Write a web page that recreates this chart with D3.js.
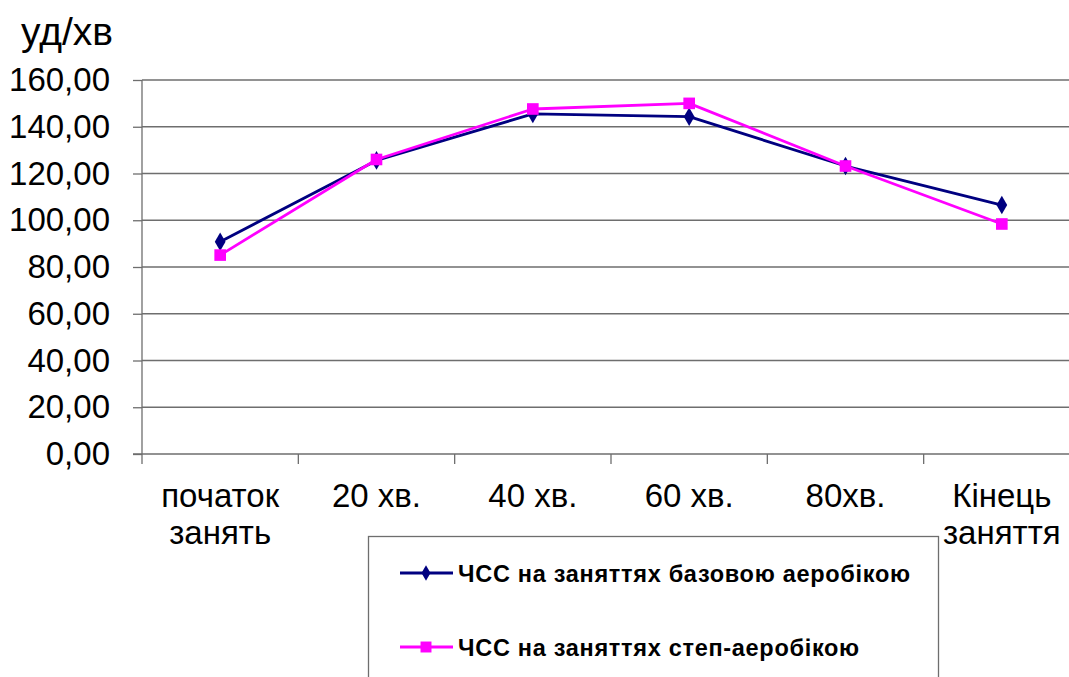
<!DOCTYPE html>
<html>
<head>
<meta charset="utf-8">
<script src="https://cdn.jsdelivr.net/npm/d3@7"></script>
<style>
  body { margin: 0; background: #fff; }
  svg { display: block; font-family: Arial, "Liberation Sans", sans-serif; }
</style>
</head>
<body>
<svg id="chart" width="1069" height="677"></svg>
<script>
// Heart rate during class stages
const categories = ["початок занять", "20 хв.", "40 хв.", "60 хв.", "80хв.", "Кінець заняття"];
const basicAerobics = [90.8, 125.6, 145.5, 144.3, 123.2, 106.5];
const stepAerobics  = [85.1, 126.0, 147.6, 150.0, 123.2, 98.4];
const yTicks = [0, 20, 40, 60, 80, 100, 120, 140, 160];
const seriesNames = ["ЧСС на заняттях базовою аеробікою", "ЧСС на заняттях степ-аеробікою"];
const yUnit = "уд/хв";

const svg = d3.select("#chart");
const plotL = 142, plotR = 1080, plotT = 80, plotB = 454;

const x = d3.scaleBand().domain(categories).range([plotL, plotR]);
const y = d3.scaleLinear().domain([0, 160]).range([plotB, plotT]);
const fmt = v => d3.format(".2f")(v).replace(".", ",");

// horizontal gridlines
svg.append("g").selectAll("line").data(yTicks.filter(t => t > 0)).join("line")
  .attr("x1", plotL).attr("x2", plotR)
  .attr("y1", d => y(d)).attr("y2", d => y(d))
  .attr("stroke", "#6e6e6e").attr("stroke-width", 1.3);

// y axis
const yAxis = svg.append("g").attr("transform", `translate(${plotL},0)`)
  .call(d3.axisLeft(y).tickValues(yTicks).tickFormat(fmt).tickSize(9).tickPadding(23));
yAxis.select(".domain").remove();
yAxis.selectAll(".tick line").attr("stroke", "#6e6e6e").attr("stroke-width", 1.3);
yAxis.selectAll("text").attr("font-size", 33).attr("fill", "#000")
  .attr("font-family", "Arial, 'Liberation Sans', sans-serif");
svg.append("line").attr("x1", plotL).attr("x2", plotL).attr("y1", plotT).attr("y2", plotB + 10)
  .attr("stroke", "#6e6e6e").attr("stroke-width", 1.3);

// x axis line and category boundary ticks
svg.append("line").attr("x1", plotL - 9).attr("x2", plotR).attr("y1", plotB).attr("y2", plotB)
  .attr("stroke", "#6e6e6e").attr("stroke-width", 1.3);
svg.append("g").selectAll("line").data(categories.slice(1)).join("line")
  .attr("x1", d => x(d)).attr("x2", d => x(d))
  .attr("y1", plotB).attr("y2", plotB + 10)
  .attr("stroke", "#6e6e6e").attr("stroke-width", 1.3);

// category labels (wrapped on spaces for two-word labels)
const labelG = svg.append("g");
categories.forEach(c => {
  const cx = x(c) + x.bandwidth() / 2;
  const words = c.includes("хв") ? [c] : c.split(" ");
  const t = labelG.append("text").attr("text-anchor", "middle")
    .attr("font-size", 33).attr("fill", "#000");
  words.forEach((w, i) => {
    t.append("tspan").attr("x", cx).attr("y", 507 + i * 37).text(w);
  });
});

// unit label
svg.append("text").attr("x", 21).attr("y", 45).attr("font-size", 39).text(yUnit);

// lines and markers
const line = d3.line().x((d, i) => x(categories[i]) + x.bandwidth() / 2).y(d => y(d));
const series = [
  { values: basicAerobics, color: "#000080", shape: d3.symbolDiamond, size: 100 },
  { values: stepAerobics, color: "#FF00FF", shape: d3.symbolSquare, size: 135 }
];
series.forEach(s => {
  svg.append("path").datum(s.values).attr("d", line)
    .attr("fill", "none").attr("stroke", s.color).attr("stroke-width", 2.8)
    .attr("stroke-linejoin", "round");
  svg.append("g").selectAll("path").data(s.values).join("path")
    .attr("transform", (d, i) => `translate(${x(categories[i]) + x.bandwidth() / 2},${y(d)})`)
    .attr("d", d3.symbol().type(s.shape).size(s.size))
    .attr("fill", s.color);
});

// legend
const lg = svg.append("g");
lg.append("rect").attr("x", 368.5).attr("y", 536.5).attr("width", 570).attr("height", 160)
  .attr("fill", "#fff").attr("stroke", "#6e6e6e").attr("stroke-width", 1.3);
series.forEach((s, i) => {
  const ly = 573 + i * 74;
  lg.append("line").attr("x1", 400).attr("x2", 453).attr("y1", ly).attr("y2", ly)
    .attr("stroke", s.color).attr("stroke-width", 2.8);
  lg.append("path").attr("transform", `translate(426,${ly})`)
    .attr("d", d3.symbol().type(s.shape).size(s.shape === d3.symbolSquare ? 120 : 70))
    .attr("fill", s.color);
  lg.append("text").attr("x", 458).attr("y", ly + 9).attr("font-size", 23.5)
    .attr("letter-spacing", 0.7)
    .attr("font-weight", "bold").text(seriesNames[i]);
});
</script>
</body>
</html>
